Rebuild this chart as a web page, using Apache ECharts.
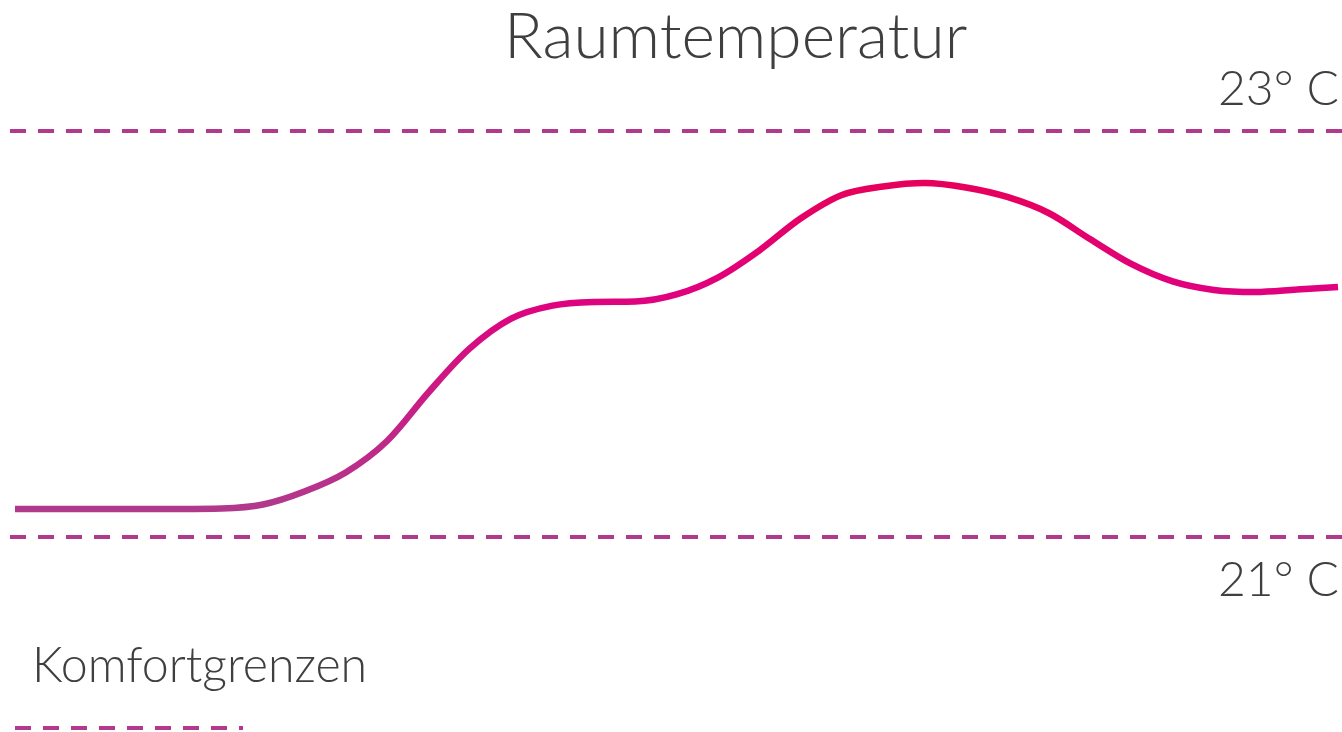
<!DOCTYPE html>
<html>
<head>
<meta charset="utf-8">
<script src="https://cdn.jsdelivr.net/npm/echarts@6/dist/echarts.min.js"></script>
<style>
html,body{margin:0;padding:0;background:#fff;}
#chart{width:1342px;height:732px;}
</style>
</head>
<body>
<div id="chart"></div>
<script>
// Data: minutes of the day (every 45 min) and room temperature in °C
var minutes = [0,45,90,135,180,225,270,315,360,405,450,495,540,585,630,675,720,765,810,855,900,945,990,1035,1080,1125,1170,1215,1260,1305,1350,1395,1440];
var temperature = [21.138,21.138,21.138,21.138,21.138,21.140,21.160,21.224,21.318,21.473,21.712,21.929,22.076,22.140,22.158,22.160,22.195,22.278,22.411,22.569,22.685,22.727,22.744,22.722,22.675,22.596,22.468,22.345,22.259,22.217,22.207,22.219,22.232];
var comfortLimits = [23, 21];
var comfortLabels = ['23° C', '21° C'];
var titleText = 'Raumtemperatur';
var legendText = 'Komfortgrenzen';

var seriesData = minutes.map(function (m, i) { return [m, temperature[i]]; });

var dashColor = '#b23a8d';
var textColor = '#3f3f3f';
var fontFam = 'Lato';

var chart = echarts.init(document.getElementById('chart'), null, {renderer: 'canvas'});
chart.setOption({
  backgroundColor: '#fff',
  animation: false,
  title: {
    text: titleText,
    left: 499,
    top: 0,
    textStyle: {fontFamily: fontFam, fontWeight: 300, fontSize: 64, color: textColor}
  },
  grid: {left: 10, right: 0, top: 131, bottom: 195},
  xAxis: {
    type: 'value', min: -5.44, max: 1444.35,
    show: false, splitLine: {show: false}
  },
  yAxis: {
    type: 'value', min: 21, max: 23,
    show: false, splitLine: {show: false}
  },
  series: [{
    type: 'line',
    data: seriesData,
    smooth: 0.33,
    symbol: 'none',
    lineStyle: {
      width: 6.5,
      cap: 'butt',
      color: new echarts.graphic.LinearGradient(0, 0, 0, 1, [
        {offset: 0, color: '#e6005a'},
        {offset: 0.33, color: '#e1007e'},
        {offset: 1, color: '#b03a8c'}
      ])
    },
    markLine: {
      silent: true,
      symbol: 'none',
      lineStyle: {type: [16, 12], width: 4, color: dashColor},
      data: comfortLimits.map(function (v, i) {
        return {
          yAxis: v,
          label: {
            show: true,
            formatter: comfortLabels[i],
            position: i === 0 ? 'insideEndTop' : 'insideEndBottom',
            distance: [3, i === 0 ? 17 : 20],
            fontFamily: fontFam, fontWeight: 300, fontSize: 48, color: textColor
          }
        };
      })
    }
  }],
  graphic: [
    {
      type: 'text', left: 32, top: 642,
      style: {text: legendText, fontFamily: fontFam, fontWeight: 300, fontSize: 48.3, fill: textColor}
    },
    {
      type: 'line', shape: {x1: 15, y1: 728, x2: 243, y2: 728},
      style: {stroke: dashColor, lineWidth: 4, lineDash: [16, 12]}
    }
  ]
});
</script>
</body>
</html>
